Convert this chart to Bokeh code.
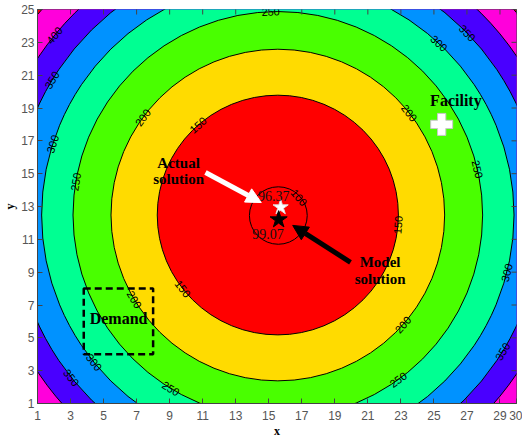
import math
from bokeh.plotting import figure
from bokeh.models import Range1d, FixedTicker, ColumnDataSource, Arrow, NormalHead
from bokeh.core.properties import value
from bokeh.embed import file_html
from bokeh.resources import INLINE

# ---- data ----
center_x = 15.55
center_y = 12.48
contour_levels = [150, 200, 250, 300, 350, 400, 450]
contour_radii = [7.3, 10.1, 12.4, 14.3, 15.95, 17.4, 19.0]
# band colours: inside 150, 150-200, ..., 400-450, above 450
band_colors = ["#FF0000", "#FFDB00", "#49FF00", "#00FF92", "#0092FF", "#4900FF", "#FF00DB", "#FF0000"]

inner_level = 100
inner_center_x = 15.58
inner_center_y = 12.45
inner_radius = 1.75

# contour labels: level and polar angle (deg) where label sits on its circle
label_levels = [250, 250, 250, 250, 250,
                300, 300, 300, 300,
                350, 350, 350, 350,
                400,
                200, 200, 200, 200,
                150, 150, 150]
label_thetas = [92, 13, 170.6, 238.5, -54,
                47, 162.4, 218.9, -14.2,
                44, 149, 218.4, -31.4,
                141,
                38, 144, 210.7, -41.4,
                131.4, 218, -4.7]
inner_label_theta = 41

actual_solution_x = [15.72]
actual_solution_y = [12.95]
actual_solution_value = "96.37"
model_solution_x = [15.6]
model_solution_y = [12.2]
model_solution_value = "99.07"
facility_x = [25.47]
facility_y = [18.0]
demand_left = [3.8]
demand_right = [8.0]
demand_bottom = [4.0]
demand_top = [8.0]

x_ticks = [1, 3, 5, 7, 9, 11, 13, 15, 17, 19, 21, 23, 25, 27, 29, 30]
y_ticks = [1, 3, 5, 7, 9, 11, 13, 15, 17, 19, 21, 23, 25]
x_min, x_max = 1, 30
y_min, y_max = 1, 25

# ---- figure ----
p = figure(width=522, height=443, x_range=Range1d(x_min, x_max), y_range=Range1d(y_min, y_max),
           output_backend="svg", toolbar_location=None,
           min_border_left=36, min_border_right=6, min_border_top=9, min_border_bottom=40)
p.background_fill_color = band_colors[-1]
p.border_fill_color = "white"
p.grid.visible = False
p.outline_line_color = "#444444"

# filled bands: draw circles from largest to smallest
order = list(range(len(contour_radii)))[::-1]
bands = ColumnDataSource(dict(
    x=[center_x] * len(order),
    y=[center_y] * len(order),
    w=[2 * contour_radii[i] for i in order],
    h=[2 * contour_radii[i] for i in order],
    c=[band_colors[i] for i in order],
))
p.ellipse(x="x", y="y", width="w", height="h", fill_color="c", line_color="black",
          line_width=1, source=bands)

# inner contour
p.ellipse(x=[inner_center_x], y=[inner_center_y], width=[2 * inner_radius], height=[2 * inner_radius],
          fill_alpha=0, line_color="black", line_width=1)

# contour labels
radius_of = dict(zip(contour_levels, contour_radii))
lx, ly, lt, la = [], [], [], []
for lev, th in zip(label_levels, label_thetas):
    r = radius_of[lev]
    t = math.radians(th)
    lx.append(center_x + r * math.cos(t))
    ly.append(center_y + r * math.sin(t))
    lt.append(str(lev))
    a = th - 90
    while a > 90:
        a -= 180
    while a <= -90:
        a += 180
    la.append(math.radians(a))
t = math.radians(inner_label_theta)
lx.append(inner_center_x + inner_radius * 0.95 * math.cos(t))
ly.append(inner_center_y + inner_radius * 0.95 * math.sin(t))
lt.append(str(inner_level))
la.append(math.radians(inner_label_theta - 90))
p.text(x=lx, y=ly, text=lt, angle=la, text_align="center", text_baseline="middle",
       text_font=value("Liberation Sans"), text_font_size="11px", text_color="black")

# demand box
p.quad(left=demand_left, right=demand_right, bottom=demand_bottom, top=demand_top,
       fill_alpha=0, line_color="black", line_width=2.5, line_dash="7 4")

# facility
p.scatter(x=facility_x, y=facility_y, marker="plus", size=22, fill_color="white",
          line_color="#c8c8c8", line_width=1)

# arrows
p.add_layout(Arrow(end=NormalHead(size=15, fill_color="white", line_color="white"),
                   x_start=11.17, y_start=15.07, x_end=14.55, y_end=13.24,
                   line_color="white", line_width=5))
p.add_layout(Arrow(end=NormalHead(size=15, fill_color="black", line_color="black"),
                   x_start=19.95, y_start=9.6, x_end=16.45, y_end=11.85,
                   line_color="black", line_width=5))

# solutions
p.scatter(x=actual_solution_x, y=actual_solution_y, marker="star", size=16,
          fill_color="white", line_color="#dddddd")
p.scatter(x=model_solution_x, y=model_solution_y, marker="star", size=18,
          fill_color="black", line_color="black")

# annotation texts
serif = value("Liberation Serif")
p.text(x=[9.54], y=[15.16], text=["Actual\nsolution"], text_align="center", text_baseline="middle",
       text_font=serif, text_font_style="bold", text_font_size="15px", text_line_height=1.05)
p.text(x=[21.74], y=[9.09], text=["Model\nsolution"], text_align="center", text_baseline="middle",
       text_font=serif, text_font_style="bold", text_font_size="15px", text_line_height=1.05)
p.text(x=[26.33], y=[19.46], text=["Facility"], text_align="center", text_baseline="middle",
       text_font=serif, text_font_style="bold", text_font_size="16px")
p.text(x=[5.91], y=[6.17], text=["Demand"], text_align="center", text_baseline="middle",
       text_font=serif, text_font_style="bold", text_font_size="16px")
p.text(x=[15.31], y=[13.61], text=[actual_solution_value], text_align="center", text_baseline="middle",
       text_font=serif, text_font_size="14px", text_color="#111111")
p.text(x=[14.95], y=[11.32], text=[model_solution_value], text_align="center", text_baseline="middle",
       text_font=serif, text_font_size="14px", text_color="#111111")

# inward tick marks on the top and right frame edges (half of each dash is clipped by the frame)
p.scatter(x=x_ticks, y=[y_max] * len(x_ticks), marker="dash", angle=math.pi / 2, size=10,
          line_color="#444444", line_width=1)
p.scatter(x=[x_max] * len(y_ticks), y=y_ticks, marker="dash", size=10,
          line_color="#444444", line_width=1)

# axes
xa = p.xaxis[0]
ya = p.yaxis[0]
xa.axis_label = "x"
ya.axis_label = "y"
xa.ticker = FixedTicker(ticks=x_ticks)
ya.ticker = FixedTicker(ticks=y_ticks)
for ax in (xa, ya):
    ax.major_tick_in = 5
    ax.major_tick_out = 0
    ax.minor_tick_in = 0
    ax.minor_tick_out = 0
    ax.axis_line_color = "#444444"
    ax.major_tick_line_color = "#444444"
    ax.major_label_text_font = "Liberation Sans"
    ax.major_label_text_font_size = "12px"
    ax.major_label_text_color = "#555555"
    ax.axis_label_text_font = "Liberation Serif"
    ax.axis_label_text_font_style = "bold"
    ax.axis_label_text_font_size = "12px"
    ax.axis_label_text_color = "black"
    ax.axis_label_standoff = 1
xa.major_label_standoff = 7
ya.major_label_standoff = 3

open("out.html", "w").write(file_html(p, INLINE))
